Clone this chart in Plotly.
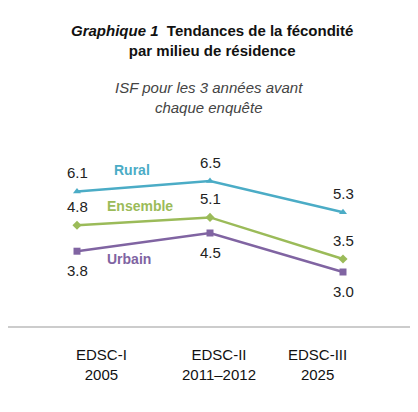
import plotly.graph_objects as go

categories = ["EDSC-I<br>2005", "EDSC-II<br>2011–2012", "EDSC-III<br>2025"]
rural = [6.1, 6.5, 5.3]
ensemble = [4.8, 5.1, 3.5]
urbain = [3.8, 4.5, 3.0]
xs = [0, 1, 2]

W, H = 418, 412
OX, OY = 9, 8
def py(p):
    return (H - (p - OY)) / H
def px(p):
    return (p - OX) / W

fig = go.Figure()
series = [
    ("Rural", rural, "#4BACC6", "triangle-up", 19, (0.41, 6.92)),
    ("Ensemble", ensemble, "#9BBB59", "diamond", 19, (0.47, 5.54)),
    ("Urbain", urbain, "#8064A2", "square", -19, (0.39, 3.5)),
]
F = "Liberation Sans, Arial, sans-serif"
for name, vals, col, sym, shift, (lx, ly) in series:
    fig.add_trace(go.Scatter(x=xs, y=vals, mode="lines+markers",
        line=dict(color=col, width=2.5), marker=dict(symbol=sym, size=7, color=col),
        hoverinfo="skip", showlegend=False))
    for x, v in zip(xs, vals):
        fig.add_annotation(x=x, y=v, text=f"{v:.1f}", showarrow=False, yshift=shift,
                           font=dict(family=F, size=15, color="#222"))
    fig.add_annotation(x=lx, y=ly, text=f"<b>{name}</b>", showarrow=False,
                       font=dict(family=F, size=14, color=col))

for xp, c in zip([75, 220, 350], categories):
    fig.add_annotation(x=px(xp), xref="paper", y=py(364), yref="paper", yanchor="middle",
                       text=c, showarrow=False, font=dict(family=F, size=15, color="#111"))
fig.add_annotation(x=px(213), y=py(41), xref="paper", yref="paper", yanchor="middle",
    showarrow=False,
    text="<b><i>Graphique 1</i>  Tendances de la fécondité<br>par milieu de résidence</b>",
    font=dict(family=F, size=15, color="#111"))
fig.add_annotation(x=px(210), y=py(97), xref="paper", yref="paper", yanchor="middle",
    showarrow=False, text="<i>ISF pour les 3 années avant<br>chaque enquête</i>",
    font=dict(family=F, size=15, color="#444"))
fig.add_shape(type="line", xref="paper", yref="paper", x0=0, x1=1,
              y0=py(327), y1=py(327), line=dict(color="#999", width=1))

fig.update_layout(width=W, height=H, margin=dict(l=0, r=0, t=0, b=0),
    paper_bgcolor="white", plot_bgcolor="white",
    xaxis=dict(range=[-(78 - OX)/133, (W - 78 + OX)/133], visible=False),
    yaxis=dict(range=[-3 + OY/26, 12.846 + OY/26], visible=False))
fig.write_html("out.html")
